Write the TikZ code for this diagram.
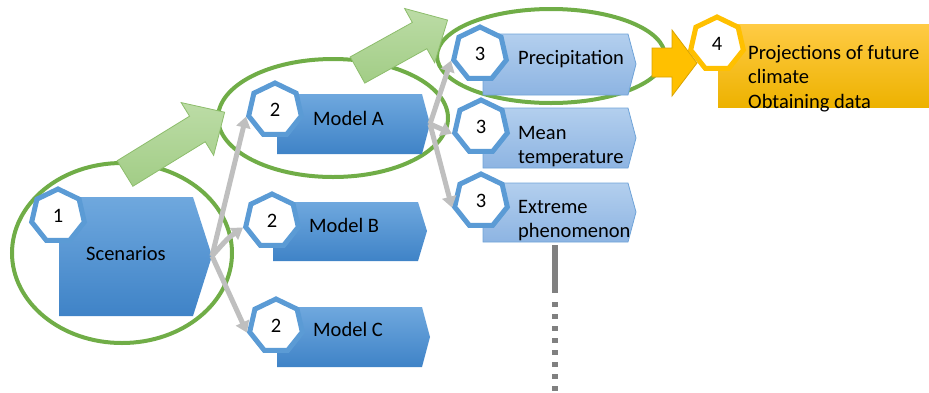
\documentclass[tikz,border=0pt]{standalone}
\usepackage{fontspec}
\setmainfont{Carlito}
\usetikzlibrary{shapes.geometric,arrows.meta}
\definecolor{boxtop}{HTML}{6FA8DE}
\definecolor{boxbot}{HTML}{3F83C7}
\definecolor{lighttop}{HTML}{B3CFEE}
\definecolor{lightbot}{HTML}{8DB4E2}
\definecolor{lightline}{HTML}{6FA3D8}
\definecolor{heptblue}{HTML}{5B9BD5}
\definecolor{gold}{HTML}{FFC000}
\definecolor{goldtop}{HTML}{FFCB45}
\definecolor{goldbot}{HTML}{EDB200}
\definecolor{greenline}{HTML}{70AD47}
\definecolor{greentop}{HTML}{BCDCA6}
\definecolor{greenbot}{HTML}{A2CD86}
\definecolor{linkgray}{HTML}{BFBFBF}
\definecolor{dotgray}{HTML}{808080}
\tikzset{
hept/.style={regular polygon,regular polygon sides=7,minimum size=54pt,inner sep=0pt,line width=5pt,draw=heptblue,fill=white},
darkbox/.style={top color=boxtop,bottom color=boxbot},
lightbox/.style={top color=lighttop,bottom color=lightbot,draw=lightline,line width=0.8pt},
goldbox/.style={top color=goldtop,bottom color=goldbot},
boxtext/.style={anchor=base west,inner sep=0pt,align=left},
feed/.style={draw=linkgray,line width=5pt,-{Triangle[width=14pt,length=11pt]}},
ring/.style={draw=greenline,line width=4pt},
blockarrow/.style={top color=greentop,bottom color=greenbot,draw=greenline!80,line width=0.8pt,line join=miter},
}
\newcommand{\greenarrow}[3]{%
\path[blockarrow,shift={#1},rotate=#2] (0,15) -- (#3-32,15) -- (#3-32,31) -- (#3,0) -- (#3-32,-31) -- (#3-32,-15) -- (0,-15) -- cycle;}

\begin{document}
\begin{tikzpicture}[x=1pt,y=-1pt,font=\fontsize{20.5pt}{24.5pt}\selectfont]
\useasboundingbox (0,0) rectangle (929,392);
\coordinate (s-tip) at (212,256);
\coordinate (a-tip) at (430,124);
\coordinate (e-foot) at (555,245);
\coordinate (dots-start) at (555,302);
\coordinate (dots-end) at (555,392);

\draw[ring] (122,253) ellipse [x radius=110pt,y radius=90pt];
\draw[ring] (333,118) ellipse [x radius=115pt,y radius=59pt];
\draw[ring] (551,56) ellipse [x radius=114pt,y radius=47pt];

\path[darkbox] (59,197) -- (193,197) -- (s-tip) -- (193,316) -- (59,316) -- cycle;
\path[darkbox] (277,94) -- (422,94) -- (a-tip) -- (422,154) -- (277,154) -- cycle;
\path[darkbox] (273,202) -- (418,202) -- (427,231) -- (418,261) -- (273,261) -- cycle;
\path[darkbox] (277,307) -- (422,307) -- (430,337) -- (422,367) -- (277,367) -- cycle;
\path[lightbox] (483,34) -- (628,34) -- (636,64) -- (628,95) -- (483,95) -- cycle;
\path[lightbox] (483,108) -- (628,108) -- (636,138) -- (628,168) -- (483,168) -- cycle;
\path[lightbox] (483,183) -- (628,183) -- (636,212) -- (628,242) -- (483,242) -- cycle;
\path[goldbox] (718,24) rectangle (929,107);

\node[hept] (s-num) at (58,216) {1};
\node[hept] (a-num) at (275,110) {2};
\node[hept] (b-num) at (272,221) {2};
\node[hept] (c-num) at (276,326) {2};
\node[hept] (p-num) at (480,54) {3};
\node[hept] (m-num) at (481,127) {3};
\node[hept] (e-num) at (481,201) {3};
\node[hept,draw=gold] (f-num) at (717,44) {4};

\draw[feed] (s-tip) -- (a-num.corner 3);
\draw[feed] (s-tip) .. controls (228,238) .. (b-num.corner 3);
\draw[feed] (s-tip) -- (c-num.corner 3);
\draw[feed] (a-tip) -- (p-num.corner 3);
\draw[feed] (a-tip) -- (m-num.corner 3);
\draw[feed] (a-tip) -- (e-num.corner 3);

\node[boxtext] (s-text) at (86,260) {Scenarios};
\node[boxtext] (a-text) at (313,125) {Model A};
\node[boxtext] (b-text) at (309,232) {Model B};
\node[boxtext] (c-text) at (313,336) {Model C};
\node[boxtext] (p-text) at (518,64) {Precipitation};
\node[boxtext] (m-text) at (518,163.5) {Mean\\temperature};
\node[boxtext] (e-text) at (518,237.5) {Extreme\\phenomenon};
\node[boxtext] (f-text) at (748,108) {Projections of future\\climate\\Obtaining data};

\draw[dotgray,line width=6pt] (e-foot) -- (555,293);
\draw[dotgray,line width=6pt,dash pattern=on 5pt off 7pt] (dots-start) -- (dots-end);

\greenarrow{(125,173.5)}{31.6}{117}
\greenarrow{(357.5,70)}{29}{103}
\path[fill=gold,draw=gold!85!black,line width=0.8pt] (652,48) -- (672,48) -- (672,30) -- (697,63) -- (672,96) -- (672,77) -- (652,77) -- cycle;
\end{tikzpicture}
\end{document}
